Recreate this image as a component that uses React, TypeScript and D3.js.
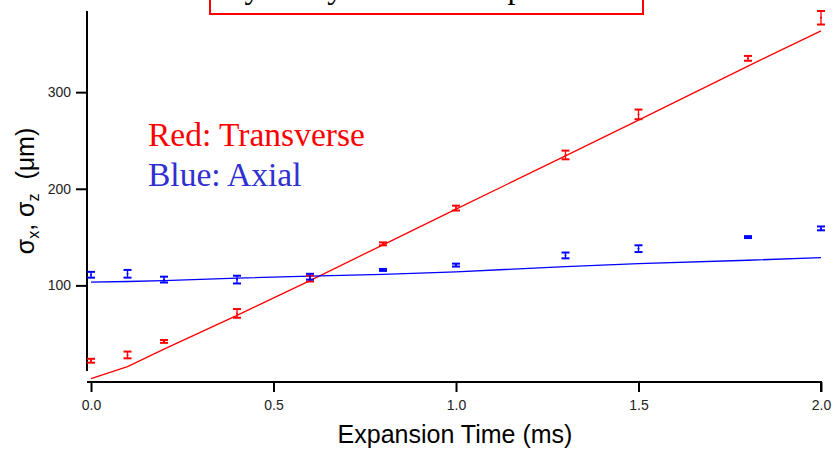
import React, { useRef, useEffect } from "react";
import * as d3 from "d3";

// expansion times (ms)
const times = [0, 0.1, 0.2, 0.4, 0.6, 0.8, 1.0, 1.3, 1.5, 1.8, 2.0];
// measured widths (um) with error
const transverse = [22, 28, 42, 71, 107, 143, 180, 235, 277, 335, 377];
const transverseErr = [2, 3.5, 1.5, 4.5, 3, 1.5, 2.5, 4.5, 5, 2.5, 7];
const axial = [111, 112, 106, 106, 109, 116, 121, 131, 138, 150, 159];
const axialErr = [3, 4, 3, 4, 3, 1, 1.5, 3, 3.5, 1, 2];
// fit curves
const transverseFit = [3.6, 16, 34, 69, 105, 142, 179, 234, 271, 327, 363.5];
const axialFit = [103.4, 104, 105, 107.5, 109.5, 111.5, 114, 119.5, 122.5, 126, 128.7];

const xTicks = [0, 0.5, 1.0, 1.5, 2.0];
const yTicks = [100, 200, 300];

const RED = "#ff0000";
const BLUE = "#0000ff";

export default function App() {
  const svgRef = useRef<SVGSVGElement>(null);

  useEffect(() => {
    const svg = d3.select(svgRef.current);
    svg.selectAll("*").remove();

    const x = d3.scaleLinear().domain([-0.011, 2.0]).range([87, 821]);
    const y = d3.scaleLinear().domain([0, 384]).range([382, 11]);

    // title box (mostly off the top of the page)
    svg.append("rect")
      .attr("x", 210).attr("y", -60)
      .attr("width", 433).attr("height", 74)
      .attr("fill", "#fff")
      .attr("stroke", RED)
      .attr("stroke-width", 2);
    svg.append("text")
      .attr("x", 216).attr("y", -2)
      .attr("font-family", "'Liberation Serif', 'Times New Roman', serif")
      .attr("font-size", 32)
      .attr("fill", "#000")
      .text("My Study of Cloud Expansion");

    // axes
    const axisFont = "'Liberation Sans', Arial, sans-serif";
    const gx = svg.append("g").attr("transform", "translate(0,382)")
      .call(d3.axisBottom(x).tickValues(xTicks).tickFormat(d3.format(".1f")).tickSize(10).tickPadding(8));
    const gy = svg.append("g").attr("transform", "translate(87,0)")
      .call(d3.axisLeft(y).tickValues(yTicks).tickSize(11).tickPadding(5));
    [gx, gy].forEach(g => {
      g.select(".domain").attr("stroke", "#000").attr("stroke-width", 2);
      g.selectAll(".tick line").attr("stroke", "#000").attr("stroke-width", 2);
      g.selectAll(".tick text")
        .attr("font-family", axisFont)
        .attr("font-size", 14)
        .attr("fill", "#222");
    });
    gx.select(".domain").attr("d", "M87,0H821V10");
    gy.select(".domain").attr("d", "M0,11V371");

    // axis titles
    svg.append("text")
      .attr("x", 455).attr("y", 443)
      .attr("text-anchor", "middle")
      .attr("font-family", axisFont)
      .attr("font-size", 25)
      .attr("fill", "#000")
      .text("Expansion Time (ms)");

    const yl = svg.append("text")
      .attr("transform", "translate(34,191) rotate(-90)")
      .attr("text-anchor", "middle")
      .attr("font-family", axisFont)
      .attr("font-size", 25)
      .attr("fill", "#000");
    yl.append("tspan").text("σ");
    yl.append("tspan").attr("font-size", 16).attr("dy", 5).text("x");
    yl.append("tspan").attr("dy", -5).text(", σ");
    yl.append("tspan").attr("font-size", 16).attr("dy", 5).text("z");
    yl.append("tspan").attr("dy", -5).text("\u00a0\u00a0(μm)");

    // legend text
    const serif = "'Liberation Serif', 'Times New Roman', serif";
    svg.append("text").attr("x", 148).attr("y", 146)
      .attr("font-family", serif).attr("font-size", 33.5).attr("fill", RED)
      .text("Red: Transverse");
    svg.append("text").attr("x", 148).attr("y", 186)
      .attr("font-family", serif).attr("font-size", 33.5).attr("fill", "#3030d0")
      .text("Blue: Axial");

    // fit lines
    const line = d3.line<number>()
      .x((_, i) => x(times[i]))
      .y(d => y(d));
    svg.append("path").datum(transverseFit)
      .attr("d", line).attr("fill", "none")
      .attr("stroke", RED).attr("stroke-width", 1.3);
    svg.append("path").datum(axialFit)
      .attr("d", line).attr("fill", "none")
      .attr("stroke", BLUE).attr("stroke-width", 1.3);

    // error bars
    const drawErr = (vals: number[], errs: number[], color: string) => {
      const g = svg.append("g").attr("stroke", color).attr("stroke-width", 1.3).attr("fill", color);
      vals.forEach((v, i) => {
        const cx = x(times[i]);
        const y0 = y(v - errs[i]);
        const y1 = y(v + errs[i]);
        g.append("line").attr("x1", cx).attr("x2", cx).attr("y1", y0).attr("y2", y1);
        g.append("line").attr("x1", cx - 4).attr("x2", cx + 4).attr("y1", y0).attr("y2", y0).attr("stroke-width", 2);
        g.append("line").attr("x1", cx - 4).attr("x2", cx + 4).attr("y1", y1).attr("y2", y1).attr("stroke-width", 2);
        g.append("circle").attr("cx", cx).attr("cy", y(v)).attr("r", 1).attr("stroke", "none");
      });
    };
    drawErr(transverse, transverseErr, RED);
    drawErr(axial, axialErr, BLUE);
  }, []);

  return (
    <svg
      ref={svgRef}
      width={833}
      height={449}
      style={{ position: "absolute", left: 0, top: 0, background: "#fff" }}
    />
  );
}
